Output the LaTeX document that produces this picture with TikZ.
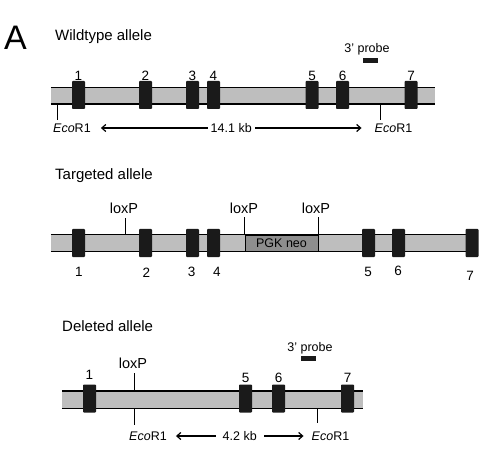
\documentclass[tikz,border=0pt]{standalone}
\usepackage{fontspec}
\setmainfont{Liberation Sans}
\usetikzlibrary{arrows.meta}
\definecolor{barcol}{HTML}{BEBEBE}
\definecolor{neocol}{HTML}{8E8E8E}
\definecolor{exoncol}{HTML}{1A1A1A}
\newcommand{\fsz}[1]{\fontsize{#1}{#1}\selectfont}
\newcommand{\eco}{\textit{Eco}R1}
\tikzset{
  exon/.style={fill=exoncol, minimum width=13pt, minimum height=28pt, inner sep=0pt, rounded corners=0.8pt},
  genebar/.style={fill=barcol, inner sep=0pt},
  edge/.style={line width=1.4pt},
  tick/.style={line width=0.9pt},
  num/.style={font=\fsz{13.5}, inner sep=0pt},
  lbl/.style={font=\fsz{12.5}, inner sep=0pt},
  lox/.style={font=\fsz{14.5}, inner sep=0pt},
  title/.style={font=\fsz{15}, inner sep=0pt, anchor=west},
  probe/.style={fill=exoncol, minimum width=15pt, minimum height=5pt, inner sep=0pt},
  sizearrow/.style={line width=1.2pt, {Straight Barb[length=4pt,width=7pt]}-{Straight Barb[length=4pt,width=7pt]}},
}
\begin{document}
\begin{tikzpicture}[x=1pt,y=-1pt]
\useasboundingbox (0,0) rectangle (492,454);
% ---------- Panel letter ----------
\node[font=\fsz{34}, inner sep=0pt, anchor=west] (A) at (4,38) {A};
% ---------- Wildtype ----------
\node[title] (wtt) at (55,37) {Wildtype allele};
\node[genebar, minimum width=384pt, minimum height=16pt] (wtbar) at (243,96) {};
\draw[edge] (wtbar.north west) -- (wtbar.north east);
\draw[edge] (wtbar.south west) -- (wtbar.south east);
\foreach \n/\x in {1/78.5,2/145.5,3/192.5,4/213.5,5/312,6/342.5,7/411}{
  \node[exon] (wx\n) at (\x,95) {};
  \node[num] (wn\n) at (\x,76) {\n};
}
\node[lbl] (wprobet) at (367,49) {3' probe};
\node[probe] (wprobe) at (370.5,60.5) {};
\node[lbl, anchor=west] (weco1) at (53,128) {\eco};
\node[lbl] (weco2) at (393.5,128) {\eco};
\coordinate (wt1) at (57,104);
\coordinate (wt2) at (380,104);
\draw[tick] (wt1) -- (wt1 |- 0,120);
\draw[tick] (wt2) -- (wt2 |- 0,120);
\draw[sizearrow] ([xshift=10pt]weco1.east) -- ([xshift=-13pt]weco2.west)
  node[midway, fill=white, lbl, inner xsep=3pt] (wkb) {14.1 kb};
% ---------- Targeted ----------
\node[title] (tgt) at (55,176) {Targeted allele};
\node[genebar, minimum width=427pt, minimum height=16pt] (tgbar) at (264.5,243) {};
\draw[edge] (tgbar.north west) -- (tgbar.north east);
\draw[edge] (tgbar.south west) -- (tgbar.south east);
\node[fill=neocol, draw=black, line width=0.6pt, minimum width=73pt, minimum height=16pt, inner sep=0pt, font=\fsz{12.5}] (neo) at (281.5,243) {PGK neo};
\draw[edge] (neo.north west) -- (neo.north east);
\draw[edge] (neo.south west) -- (neo.south east);
\foreach \n/\x/\nx/\ny in {1/78.5/79/272,2/145.5/146.5/273,3/192.5/191.7/272,4/213.5/217/272,5/368.5/368/272,6/398.5/398/271,7/472/470/276}{
  \node[exon] (tx\n) at (\x,243) {};
  \node[num] (tn\n) at (\nx,\ny) {\n};
}
\node[lox] (tl1) at (124,208) {loxP};
\node[lox] (tl2) at (244,208) {loxP};
\node[lox] (tl3) at (316,208) {loxP};
\coordinate (tt1) at (125,235);
\draw[tick] (tt1) -- (tt1 |- 0,218);
\draw[tick] (neo.north west) -- (neo.north west |- 0,217);
\draw[tick] (neo.north east) -- (neo.north east |- 0,217);
% ---------- Deleted ----------
\node[title] (dlt) at (62,326) {Deleted allele};
\node[genebar, minimum width=301pt, minimum height=17pt] (dlbar) at (212.5,399.5) {};
\draw[edge] (dlbar.north west) -- (dlbar.north east);
\draw[edge] (dlbar.south west) -- (dlbar.south east);
\foreach \n/\x/\ny in {1/89.5/375,5/245.5/378,6/278.5/378,7/347.5/378}{
  \node[exon] (dx\n) at (\x,398.5) {};
  \node[num] (dn\n) at (\x,\ny) {\n};
}
\node[lox] (dl1) at (133,363) {loxP};
\coordinate (dt0) at (134,391);
\draw[tick] (dt0) -- (dt0 |- 0,373);
\node[lbl] (dprobet) at (310,348) {3' probe};
\node[probe] (dprobe) at (308.5,358) {};
\node[lbl] (deco1) at (148,436) {\eco};
\node[lbl] (deco2) at (330.5,436) {\eco};
\coordinate (dt1) at (134,408);
\coordinate (dt2) at (317,408);
\draw[tick] (dt1) -- (dt1 |- 0,425);
\draw[tick] (dt2) -- (dt2 |- 0,423);
\draw[sizearrow] ([xshift=9pt]deco1.east) -- ([xshift=-8pt]deco2.west)
  node[midway, fill=white, lbl, inner xsep=7pt] (dkb) {4.2 kb};
\end{tikzpicture}
\end{document}
